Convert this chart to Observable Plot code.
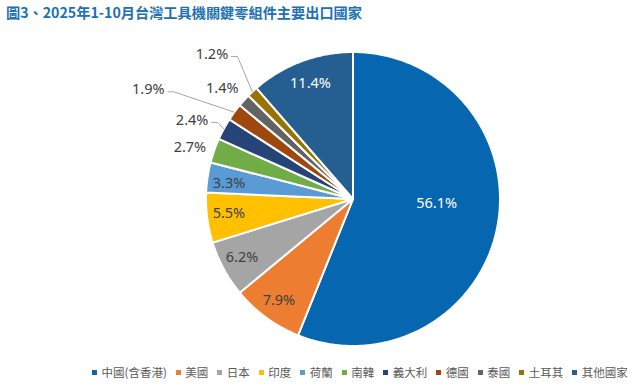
<!DOCTYPE html>
<html>
<head>
<meta charset="utf-8">
<script src="https://cdn.jsdelivr.net/npm/d3@7"></script>
<script src="https://cdn.jsdelivr.net/npm/@observablehq/plot@0.6"></script>
<style>
  html, body { margin: 0; padding: 0; background: #fff; }
  #wrap { position: relative; width: 644px; height: 387px; overflow: hidden; }
  #title { height: 22px; line-height: 24px; padding-left: 6px; font-family: "Noto Sans CJK TC", sans-serif; font-weight: bold; font-size: 14.2px; color: #2070B5; white-space: nowrap; }
  #legend { height: 30px; display: flex; align-items: center; padding-left: 92px; font-family: "Noto Sans CJK TC", sans-serif; font-size: 11.5px; color: #595959; white-space: nowrap; }
  .item { display: flex; align-items: center; margin-right: 9px; }
  .sw { width: 5px; height: 5px; margin-right: 4.5px; }
</style>
</head>
<body>
<div id="wrap">
  <div id="title">圖3、2025年1-10月台灣工具機關鍵零組件主要出口國家</div>
  <div id="chart"></div>
  <div id="legend"></div>
</div>
<script>
// ---- data ----
const names  = ["中國(含香港)", "美國", "日本", "印度", "荷蘭", "南韓", "義大利", "德國", "泰國", "土耳其", "其他國家"];
const shares = [56.1, 7.9, 6.2, 5.5, 3.3, 2.7, 2.4, 1.9, 1.4, 1.2, 11.4];
const colors = ["#0766B0", "#ED7D31", "#A5A5A5", "#FFC000", "#5B9BD5", "#70AD47", "#264478", "#9E480E", "#636363", "#997300", "#255E91"];

// ---- label layout (style, not data): radius factor, angle offset (deg), leader line, text colour ----
const labelLayout = [
  {r: 0.57,  da: -8.0, leader: false, color: "#ffffff"},
  {r: 0.854, da: 0,    leader: false, color: "#404040"},
  {r: 0.854, da: 0.6,  leader: false, color: "#404040"},
  {r: 0.85,  da: 0.7,  leader: false, color: "#404040"},
  {r: 0.85,  da: -1.4, leader: false, color: "#404040"},
  {r: 1.163, da: -1.8, leader: false, color: "#404040"},
  {r: 1.218, da: -2.4, leader: true,  color: "#404040"},
  {r: 1.578, da: -8.1, leader: true,  color: "#404040"},
  {r: 1.163, da: -2.0, leader: false, color: "#404040"},
  {r: 1.374, da: -1.1, leader: true,  color: "#404040"},
  {r: 0.837, da: 0.3,  leader: false, color: "#ffffff"}
];

const W = 644, H = 335;
const cx = 352.5, cy = 176.5, R = 147;

const arcs = d3.pie().sort(null).value(d => d)(shares);

// slice polygons in unit coordinates (radius 1, y up)
const slicePts = [];
arcs.forEach((a, i) => {
  const n = Math.max(2, Math.ceil((a.endAngle - a.startAngle) / (Math.PI / 360)));
  slicePts.push({name: names[i], x: 0, y: 0});
  for (let k = 0; k <= n; k++) {
    const t = a.startAngle + (a.endAngle - a.startAngle) * k / n;
    slicePts.push({name: names[i], x: Math.sin(t), y: Math.cos(t)});
  }
  slicePts.push({name: names[i], x: 0, y: 0});
});

const deg = Math.PI / 180;
const labels = arcs.map((a, i) => {
  const L = labelLayout[i];
  const mid = (a.startAngle + a.endAngle) / 2 + L.da * deg;
  return {name: names[i], text: shares[i].toFixed(1) + "%", x: L.r * Math.sin(mid), y: L.r * Math.cos(mid), color: L.color};
});

const leaders = [];
arcs.forEach((a, i) => {
  const L = labelLayout[i];
  if (!L.leader) return;
  const lab = labels[i];
  const mid = (a.startAngle + a.endAngle) / 2;
  const ly = lab.y - 2 / R;
  leaders.push({id: i, x: lab.x + 19.5 / R, y: ly});
  leaders.push({id: i, x: lab.x + 25.5 / R, y: ly});
  leaders.push({id: i, x: Math.sin(mid), y: Math.cos(mid)});
});

const chart = Plot.plot({
  width: W,
  height: H,
  margin: 0,
  x: {domain: [-1, 1], range: [cx - R, cx + R], axis: null},
  y: {domain: [-1, 1], range: [cy + R, cy - R], axis: null},
  color: {domain: names, range: colors},
  style: {background: "transparent"},
  marks: [
    Plot.line(slicePts, {x: "x", y: "y", z: "name", fill: "name", stroke: "#ffffff", strokeWidth: 2, strokeLinejoin: "round", curve: "linear"}),
    Plot.line(leaders, {x: "x", y: "y", z: "id", stroke: "#A6A6A6", strokeWidth: 1}),
    Plot.text(labels, {x: "x", y: "y", text: "text", fill: d => d.color, fontSize: 14.5, fontFamily: "Noto Sans, sans-serif"})
  ]
});
document.getElementById("chart").appendChild(chart);

const legend = document.getElementById("legend");
names.forEach((n, i) => {
  const it = document.createElement("div");
  it.className = "item";
  const sw = document.createElement("span");
  sw.className = "sw";
  sw.style.background = colors[i];
  const tx = document.createElement("span");
  tx.textContent = n;
  it.appendChild(sw);
  it.appendChild(tx);
  legend.appendChild(it);
});
</script>
</body>
</html>
